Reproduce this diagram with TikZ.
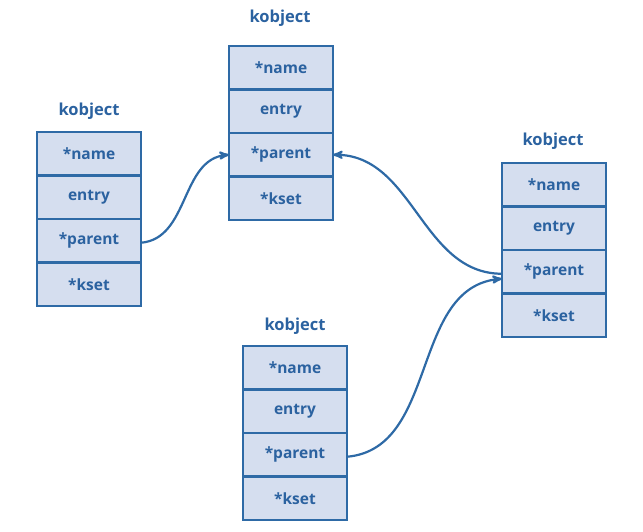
\documentclass[tikz,border=0pt]{standalone}
\usepackage{fontspec}
\setmainfont{Open Sans}
\usepackage{tikz}
\usetikzlibrary{arrows,positioning}
\definecolor{kline}{HTML}{2E6AA6}
\definecolor{kfill}{HTML}{D5DEEF}
\definecolor{ktext}{HTML}{2B62A0}
\tikzstyle{field}=[rectangle,draw=kline,fill=kfill,line width=2.5pt,outer sep=0pt,inner sep=0pt,minimum width=104pt,minimum height=43.5pt,text=ktext,font=\fontsize{15.5}{18}\selectfont\bfseries]
\tikzstyle{title}=[text=ktext,font=\fontsize{16.5}{19}\selectfont\bfseries]
\tikzstyle{ptr}=[->,>=stealth',draw=kline,line width=2.2pt]

\begin{document}
\begin{tikzpicture}[x=1pt,y=1pt]
    \useasboundingbox (0,0) rectangle (643,-531);

    % oben
    \node[title] (t1) at (280,-18) {kobject};
    \node[field] (name1) at (281,-67.75) {*name};
    \node[field] (entry1) [below=0pt of name1] {entry};
    \node[field] (parent1) [below=0pt of entry1] {*parent};
    \node[field] (kset1) [below=0pt of parent1] {*kset};

    % links
    \node[title] (t2) at (89,-111) {kobject};
    \node[field] (name2) at (89,-153.75) {*name};
    \node[field] (entry2) [below=0pt of name2] {entry};
    \node[field] (parent2) [below=0pt of entry2] {*parent};
    \node[field] (kset2) [below=0pt of parent2] {*kset};

    % rechts
    \node[title] (t3) at (553,-141) {kobject};
    \node[field] (name3) at (554,-184.75) {*name};
    \node[field] (entry3) [below=0pt of name3] {entry};
    \node[field] (parent3) [below=0pt of entry3] {*parent};
    \node[field] (kset3) [below=0pt of parent3] {*kset};

    % unten
    \node[title] (t4) at (295,-326) {kobject};
    \node[field] (name4) at (295,-367.75) {*name};
    \node[field] (entry4) [below=0pt of name4] {entry};
    \node[field] (parent4) [below=0pt of entry4] {*parent};
    \node[field] (kset4) [below=0pt of parent4] {*kset};

    % Zeiger
    \draw [ptr] ([yshift=-2pt]parent2.east) to[out=5,in=185] (parent1.west);
    \draw [ptr] ([yshift=-2pt]parent3.west) to[out=180,in=0] (parent1.east);
    \draw [ptr] ([yshift=-2pt]parent4.east) to[out=5,in=185] ([yshift=-7pt]parent3.west);

\end{tikzpicture}
\end{document}
